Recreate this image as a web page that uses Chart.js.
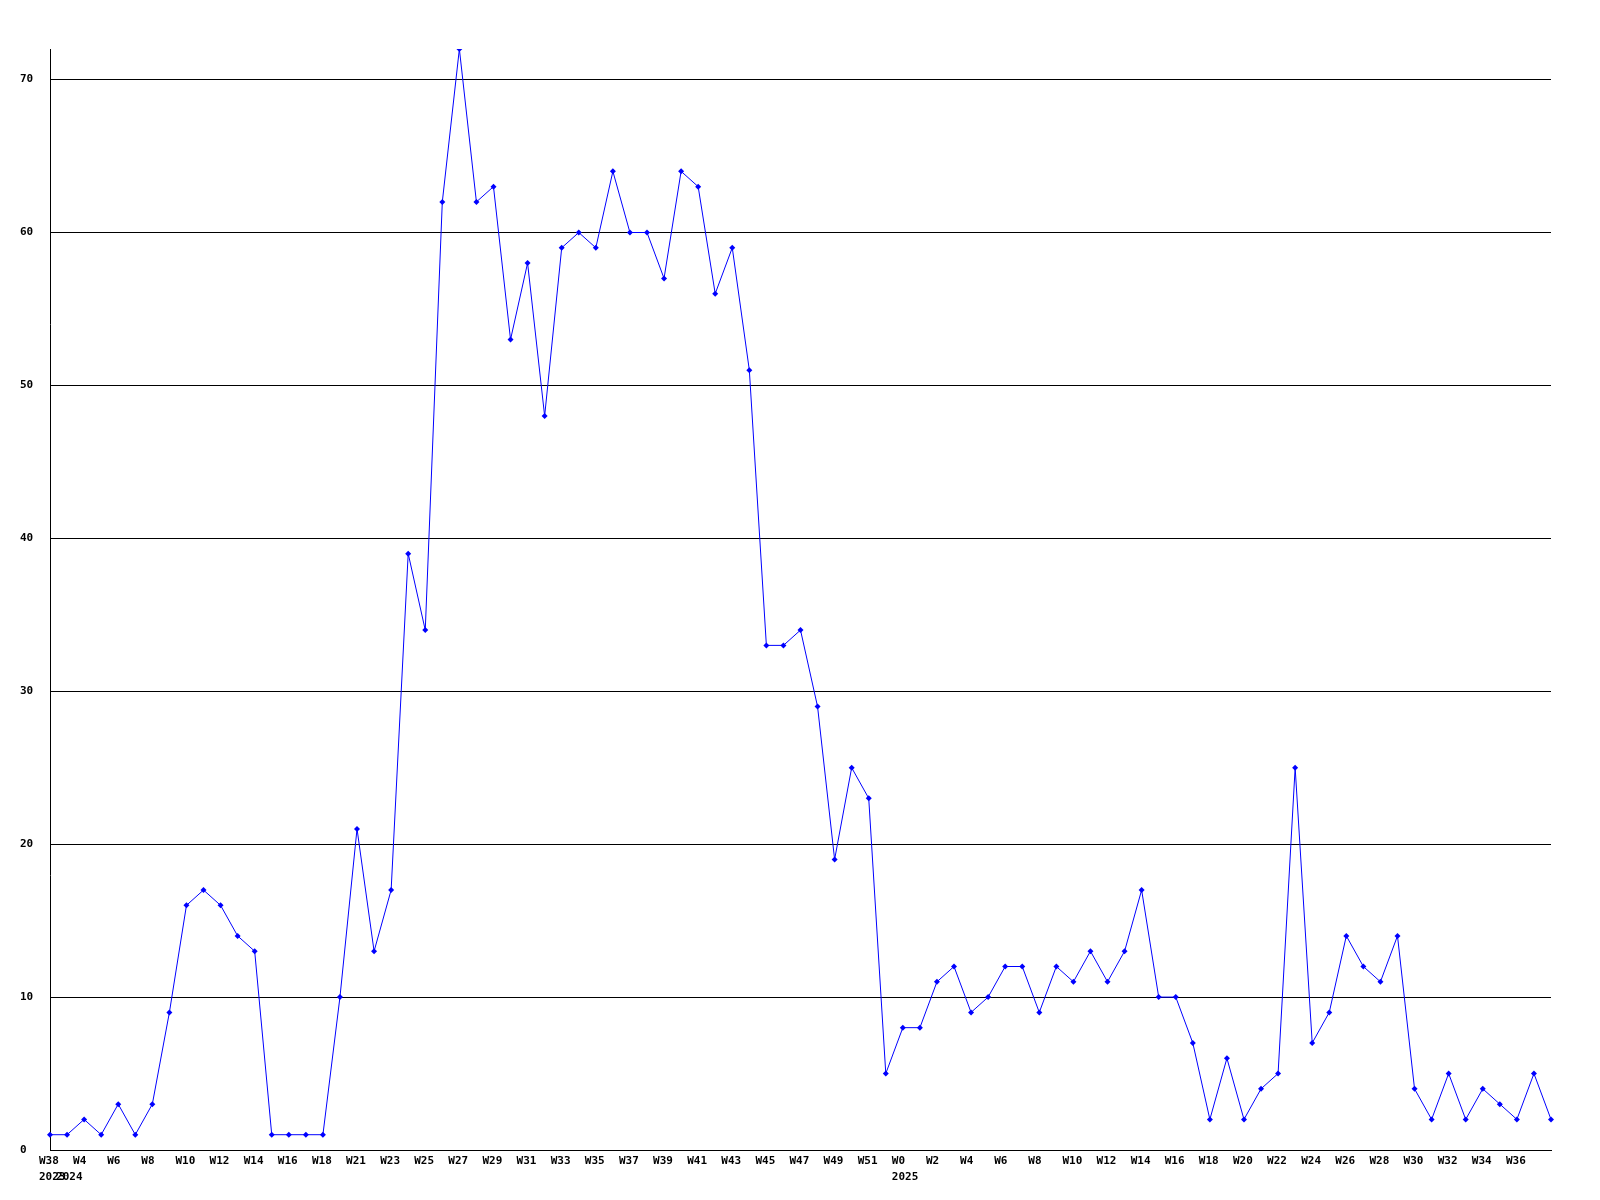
<!DOCTYPE html>
<html>
<head>
<meta charset="utf-8">
<script src="https://cdn.jsdelivr.net/npm/chart.js@4"></script>
<style>
  body { margin: 0; background: #fff; }
  #wrap { width: 1600px; height: 1200px; }
</style>
</head>
<body>
<div id="wrap"><canvas id="weekChart" width="1600" height="1200"></canvas></div>
<script>
// weeks on the x axis (one point per week)
const weeks = [
  'W38',
  'W3', 'W4', 'W5', 'W6', 'W7', 'W8', 'W9', 'W10', 'W11', 'W12', 'W13', 'W14', 'W15', 'W16', 'W17', 'W18',
  'W20', 'W21', 'W22', 'W23', 'W24', 'W25', 'W26', 'W27', 'W28', 'W29', 'W30', 'W31', 'W32', 'W33', 'W34',
  'W35', 'W36', 'W37', 'W38', 'W39', 'W40', 'W41', 'W42', 'W43', 'W44', 'W45', 'W46', 'W47', 'W48', 'W49',
  'W50', 'W51', 'W52',
  'W0', 'W1', 'W2', 'W3', 'W4', 'W5', 'W6', 'W7', 'W8', 'W9', 'W10', 'W11', 'W12', 'W13', 'W14', 'W15',
  'W16', 'W17', 'W18', 'W19', 'W20', 'W21', 'W22', 'W23', 'W24', 'W25', 'W26', 'W27', 'W28', 'W29', 'W30',
  'W31', 'W32', 'W33', 'W34', 'W35', 'W36', 'W37', 'W38'
];

// year marker under the first week of each year (index -> year)
const yearIndex = [0, 1, 50];
const yearText  = ['2023', '2024', '2025'];

// weekly counts
const counts = [
  1,
  1, 2, 1, 3, 1, 3, 9, 16, 17, 16, 14, 13, 1, 1, 1, 1,
  10, 21, 13, 17, 39, 34, 62, 72, 62, 63, 53, 58, 48, 59, 60,
  59, 64, 60, 60, 57, 64, 63, 56, 59, 51, 33, 33, 34, 29, 19,
  25, 23, 5,
  8, 8, 11, 12, 9, 10, 12, 12, 9, 12, 11, 13, 11, 13, 17, 10,
  10, 7, 2, 6, 2, 4, 5, 25, 7, 9, 14, 12, 11, 14, 4,
  2, 5, 2, 4, 3, 2, 5, 2
];

const yMax = 72;
const yStep = 10;

const monoFont = { family: '"DejaVu Sans Mono", monospace', size: 11, weight: 'bold', lineHeight: 1.45 };

function tickLabel(i) {
    const y = yearIndex.indexOf(i);
    // every other week is labelled, last one left out like the original
    const wk = (i % 2 === 0 && i < weeks.length - 2) ? weeks[i] : '';
    if (y >= 0) return [wk, yearText[y]];
    return wk;
}

document.addEventListener('DOMContentLoaded', function() {
    const ctx = document.getElementById('weekChart');
    new Chart(ctx, {
        type: 'line',
        data: {
            labels: weeks,
            datasets: [{
                data: counts,
                borderColor: '#0000ff',
                backgroundColor: '#0000ff',
                borderWidth: 1,
                tension: 0,
                pointStyle: 'rectRot',
                pointRadius: 3,
                pointBorderWidth: 0,
                fill: false
            }]
        },
        options: {
            responsive: false,
            animation: false,
            layout: { padding: { left: 20, right: 49, top: 49, bottom: 0 } },
            plugins: {
                legend: { display: false },
                tooltip: { enabled: false }
            },
            scales: {
                x: {
                    offset: false,
                    grid: { display: false, drawTicks: false },
                    border: { display: true, color: '#000', width: 1 },
                    afterFit: function(scale) { scale.height = 50; },
                    ticks: {
                        autoSkip: false,
                        maxRotation: 0,
                        minRotation: 0,
                        align: 'start',
                        labelOffset: -11,
                        padding: 3,
                        color: '#000',
                        font: monoFont,
                        callback: function(val, i) { return tickLabel(i); }
                    }
                },
                y: {
                    min: 0,
                    max: yMax,
                    afterBuildTicks: function(scale) {
                        scale.ticks = scale.ticks.filter(t => t.value % yStep === 0);
                    },
                    afterFit: function(scale) { scale.width = 30; },
                    grid: { color: '#000', lineWidth: 1, drawTicks: false },
                    border: { display: true, color: '#000', width: 1 },
                    ticks: {
                        stepSize: yStep,
                        crossAlign: 'far',
                        color: '#000',
                        font: monoFont
                    }
                }
            }
        }
    });
});
</script>
</body>
</html>
